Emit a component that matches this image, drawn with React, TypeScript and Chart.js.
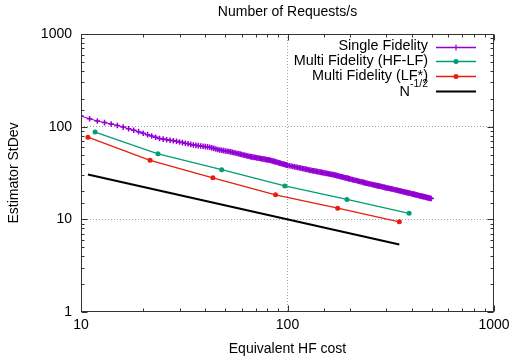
import React, { useEffect, useRef } from 'react';
import { Chart, registerables } from 'chart.js';

Chart.register(...registerables);

// ---- Data ----
const SF_COST = [
  10, 11, 12, 13, 14, 15, 16, 17, 18, 19, 20, 21, 22, 23, 24, 25, 26, 27, 28, 29,
  30, 31, 32, 33, 34, 35, 36, 37, 38, 39, 40, 41, 42, 43, 44, 45, 46, 47, 48, 49,
  50, 51, 52, 53, 54, 55, 56, 57, 58, 59, 60, 61, 62, 63, 64, 65, 66, 67, 68, 69,
  70, 71, 72, 73, 74, 75, 76, 77, 78, 79, 80, 81, 82, 83, 84, 85, 86, 87, 88, 89,
  90, 91, 92, 93, 94, 95, 96, 97, 98, 99, 100,
  102, 104, 106, 108, 110, 112, 114, 116, 118, 120, 122, 124, 126, 128, 130, 132, 134, 136, 138, 140,
  142, 144, 146, 148, 150, 152, 154, 156, 158, 160, 162, 164, 166, 168, 170, 172, 174, 176, 178, 180,
  182, 184, 186, 188, 190, 192, 194, 196, 198, 200,
  203, 206, 209, 212, 215, 218, 221, 224, 227, 230, 233, 236, 239, 242, 245, 248, 251, 254, 257, 260,
  263, 266, 269, 272, 275, 278, 281, 284, 287, 290, 293, 296, 299,
  300, 304, 308, 312, 316, 320, 324, 328, 332, 336, 340, 344, 348, 352, 356, 360, 364, 368, 372, 376,
  380, 384, 388, 392, 396, 400, 404, 408, 412, 416, 420, 424, 428, 432, 436, 440, 444, 448, 452, 456,
  460, 464, 468, 472, 476, 480, 484, 488, 492, 496,
];
const SF_STDEV = [
  130, 121.7, 115.1, 110.7, 106.8, 103.1, 98.9, 95.0, 91.6, 88.3, 85.0, 82.0, 79.3, 76.8, 74.5, 73.4, 72.3, 71.3, 70.4, 69.5,
  68.4, 67.3, 66.3, 65.3, 64.4, 63.5, 62.9, 62.4, 61.9, 61.4, 60.9, 60.5, 60.0, 59.1, 58.3, 57.5, 56.8, 56.0, 55.6, 55.1,
  54.7, 54.3, 53.9, 53.5, 53.0, 52.4, 51.9, 51.4, 51.0, 50.5, 50.0, 49.5, 49.1, 48.7, 48.3, 47.9, 47.5, 47.2, 46.9, 46.6,
  46.4, 46.1, 45.9, 45.6, 45.3, 45.1, 44.9, 44.6, 44.4, 44.1, 43.9, 43.7, 43.5, 43.1, 42.8, 42.5, 42.2, 41.9, 41.6, 41.3,
  41.0, 40.7, 40.4, 40.1, 39.8, 39.5, 39.3, 39.0, 38.8, 38.5, 38.3,
  37.9, 37.6, 37.2, 36.9, 36.6, 36.3, 36.0, 35.7, 35.4, 35.1, 34.85, 34.6, 34.3, 34.0, 33.75, 33.5, 33.3, 33.1, 32.9, 32.7,
  32.5, 32.3, 32.1, 31.9, 31.7, 31.5, 31.35, 31.2, 31.0, 30.8, 30.65, 30.5, 30.35, 30.2, 30.0, 29.8, 29.6, 29.4, 29.2, 29.0,
  28.85, 28.7, 28.5, 28.3, 28.15, 28.0, 27.85, 27.7, 27.5, 27.3,
  27.1, 26.85, 26.6, 26.4, 26.25, 26.05, 25.8, 25.6, 25.45, 25.25, 25.05, 24.9, 24.7, 24.5, 24.35, 24.2, 24.05, 23.9, 23.75, 23.6,
  23.45, 23.3, 23.2, 23.1, 22.95, 22.85, 22.75, 22.6, 22.45, 22.35, 22.2, 22.1, 21.95,
  21.9, 21.8, 21.65, 21.5, 21.4, 21.3, 21.15, 21.0, 20.85, 20.7, 20.6, 20.5, 20.35, 20.2, 20.1, 20.0, 19.85, 19.7, 19.6, 19.5,
  19.4, 19.3, 19.2, 19.1, 19.0, 18.9, 18.8, 18.7, 18.6, 18.5, 18.4, 18.3, 18.2, 18.1, 18.0, 17.9, 17.8, 17.7, 17.65, 17.6,
  17.5, 17.4, 17.3, 17.2, 17.15, 17.1, 17.0, 16.9, 16.85, 16.8,
];
const HFLF_COST = [11.7, 23.6, 48, 97, 194, 388];
const HFLF_STDEV = [87.5, 51, 34.3, 22.9, 16.4, 11.6];
const LF_COST = [10.8, 21.6, 43.5, 87.5, 175, 348];
const LF_STDEV = [77, 43.3, 28.1, 18.4, 13.2, 9.4];
const REF_COST = [10.8, 348];
const REF_STDEV = [30.4, 5.35];

const SERIES_LABELS = ['Single Fidelity', 'Multi Fidelity (HF-LF)', 'Multi Fidelity (LF*)', 'N^-1/2'];
const X_TICK_LABELS = [10, 100, 1000];
const Y_TICK_LABELS = [1, 10, 100, 1000];

const TITLE = 'Number of Requests/s';
const X_TITLE = 'Equivalent HF cost';
const Y_TITLE = 'Estimator StDev';

const FONT = "'Liberation Sans', Arial, Helvetica, sans-serif";
const COLORS = ['#9400d3', '#009e73', '#e51e10', '#000000'];

const toPoints = (xs: number[], ys: number[]) => xs.map((x, i) => ({ x, y: ys[i] }));
const isPow10 = (v: number) => Math.abs(Math.log10(v) - Math.round(Math.log10(v))) < 1e-9;

const framePlugin = {
  id: 'frameTicks',
  afterDatasetsDraw(chart: any) {
    const { ctx, chartArea: a, scales } = chart;
    ctx.save();
    ctx.strokeStyle = '#333';
    ctx.lineWidth = 1;
    const L = Math.round(a.left) + 0.5;
    const R = Math.round(a.right) - 0.5;
    const T = Math.round(a.top) + 0.5;
    const B = Math.round(a.bottom) - 0.5;
    ctx.strokeRect(L, T, R - L, B - T);
    ctx.beginPath();
    for (const t of scales.x.ticks) {
      const px = Math.round(scales.x.getPixelForValue(t.value)) + 0.5;
      const len = isPow10(t.value) ? 6 : 3;
      ctx.moveTo(px, B); ctx.lineTo(px, B - len);
      ctx.moveTo(px, T); ctx.lineTo(px, T + len);
    }
    for (const t of scales.y.ticks) {
      const py = Math.round(scales.y.getPixelForValue(t.value)) + 0.5;
      const len = isPow10(t.value) ? 6 : 3;
      ctx.moveTo(L, py); ctx.lineTo(L + len, py);
      ctx.moveTo(R, py); ctx.lineTo(R - len, py);
    }
    ctx.stroke();
    ctx.restore();
  },
};

const legendPlugin = {
  id: 'gpLegend',
  afterDraw(chart: any) {
    const { ctx, chartArea: a } = chart;
    ctx.save();
    chart.data.datasets.forEach((ds: any, i: number) => {
      const y = a.top + 12.5 + i * 14.7;
      const textRight = a.right - 66;
      const [main, sup] = String(ds.label).split('^');
      ctx.fillStyle = '#000';
      ctx.textBaseline = 'middle';
      ctx.textAlign = 'right';
      if (sup) {
        ctx.font = `10.5px ${FONT}`;
        const supW = ctx.measureText(sup).width;
        ctx.fillText(sup, textRight, y - 6);
        ctx.font = `14.4px ${FONT}`;
        ctx.fillText(main, textRight - supW, y + 1);
      } else {
        ctx.font = `14.4px ${FONT}`;
        ctx.fillText(main, textRight, y);
      }
      const x0 = a.right - 58;
      const x1 = a.right - 18;
      const ly = Math.round(y) + 0.5;
      ctx.strokeStyle = ds.borderColor;
      ctx.lineWidth = Math.max(1.3, ds.borderWidth);
      ctx.beginPath();
      ctx.moveTo(x0, ly);
      ctx.lineTo(x1, ly);
      ctx.stroke();
      const mx = (x0 + x1) / 2;
      if (ds.pointStyle === 'cross') {
        ctx.lineWidth = 1.2;
        ctx.beginPath();
        ctx.moveTo(mx, ly - 3); ctx.lineTo(mx, ly + 3);
        ctx.moveTo(mx - 3, ly); ctx.lineTo(mx + 3, ly);
        ctx.stroke();
      } else if (ds.pointRadius > 0) {
        ctx.fillStyle = ds.borderColor;
        ctx.beginPath();
        ctx.arc(mx, ly, ds.pointRadius, 0, Math.PI * 2);
        ctx.fill();
      }
    });
    ctx.restore();
  },
};

export default function App() {
  const ref = useRef<HTMLCanvasElement | null>(null);
  useEffect(() => {
    if (!ref.current) return;
    Chart.defaults.font.family = FONT;
    Chart.defaults.font.size = 14;
    Chart.defaults.color = '#000';
    const gridColor = (min: number, max: number) => (c: any) => {
      const v = c.tick?.value;
      if (v === undefined) return 'rgba(0,0,0,0)';
      if (isPow10(v) && v !== min && v !== max) return '#a0a0a0';
      return 'rgba(0,0,0,0)';
    };
    const chart = new Chart(ref.current, {
      type: 'line',
      data: {
        datasets: [
          {
            label: SERIES_LABELS[0],
            data: toPoints(SF_COST, SF_STDEV),
            borderColor: COLORS[0],
            backgroundColor: COLORS[0],
            borderWidth: 1,
            pointStyle: 'cross',
            pointRadius: 2.8,
            pointBorderWidth: 1.5,
            pointBorderColor: COLORS[0],
          },
          {
            label: SERIES_LABELS[1],
            data: toPoints(HFLF_COST, HFLF_STDEV),
            borderColor: COLORS[1],
            backgroundColor: COLORS[1],
            borderWidth: 1.3,
            pointStyle: 'circle',
            pointRadius: 2.5,
            pointBorderWidth: 0,
          },
          {
            label: SERIES_LABELS[2],
            data: toPoints(LF_COST, LF_STDEV),
            borderColor: COLORS[2],
            backgroundColor: COLORS[2],
            borderWidth: 1.3,
            pointStyle: 'circle',
            pointRadius: 2.5,
            pointBorderWidth: 0,
          },
          {
            label: SERIES_LABELS[3],
            data: toPoints(REF_COST, REF_STDEV),
            borderColor: COLORS[3],
            backgroundColor: COLORS[3],
            borderWidth: 2,
            pointRadius: 0,
          },
        ],
      },
      options: {
        animation: false,
        responsive: false,
        events: [],
        layout: { padding: { left: 0, right: 19, top: 0, bottom: 0 } },
        plugins: {
          legend: { display: false },
          tooltip: { enabled: false },
          title: {
            display: true,
            text: TITLE,
            fullSize: false,
            font: { size: 14, weight: 'normal', family: FONT },
            color: '#000',
            padding: { top: 3.6, bottom: 13.6 },
          },
        },
        scales: {
          x: {
            type: 'logarithmic',
            min: 10,
            max: 1000,
            afterFit: (s: any) => { s.height = 44; s.paddingLeft = 0; s.paddingRight = 0; },
            grid: { color: gridColor(10, 1000), drawTicks: false, lineWidth: 1 },
            border: { display: false, dash: [1, 2] },
            ticks: {
              autoSkip: false,
              maxRotation: 0,
              padding: 5,
              font: { size: 14, family: FONT },
              color: '#000',
              callback: (v: any) => (X_TICK_LABELS.includes(Number(v)) ? String(v) : ''),
            },
            title: {
              display: true,
              text: X_TITLE,
              font: { size: 14, family: FONT, lineHeight: 1 },
              color: '#000',
              padding: { top: 0, bottom: 0 },
            },
          },
          y: {
            type: 'logarithmic',
            min: 1,
            max: 1000,
            afterFit: (s: any) => { s.width = 81; s.paddingTop = 0; s.paddingBottom = 0; },
            grid: { color: gridColor(1, 1000), drawTicks: false, lineWidth: 1 },
            border: { display: false, dash: [1, 2] },
            ticks: {
              autoSkip: false,
              padding: 9,
              font: { size: 14, family: FONT },
              color: '#000',
              callback: (v: any) => (Y_TICK_LABELS.includes(Number(v)) ? String(v) : ''),
            },
            title: {
              display: true,
              text: Y_TITLE,
              font: { size: 14, family: FONT },
              color: '#000',
              padding: { top: 5.6, bottom: 0 },
            },
          },
        },
      },
      plugins: [framePlugin, legendPlugin],
    } as any);
    return () => chart.destroy();
  }, []);
  return (
    <div style={{ position: 'fixed', left: 0, top: 0, width: 513, height: 356, background: '#fff' }}>
      <canvas ref={ref} width={513} height={356} style={{ width: 513, height: 356, display: 'block' }} />
    </div>
  );
}
